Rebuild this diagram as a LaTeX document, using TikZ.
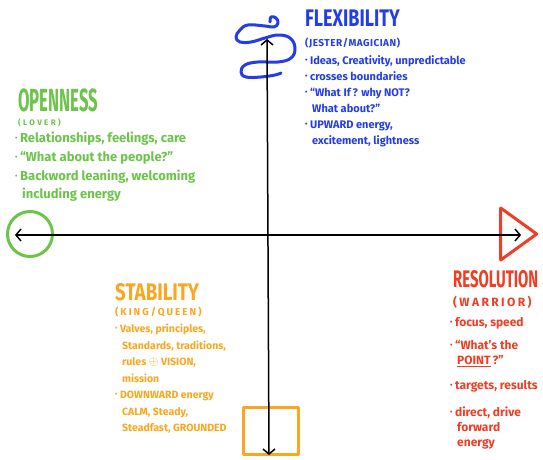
\documentclass[tikz,border=0pt]{standalone}
\usepackage{fontspec}
\setmainfont{Fira Sans}
\usepackage{graphicx}
\usepackage{xcolor}
\usepackage{amssymb}
\usepackage{tikz}
\usetikzlibrary{arrows.meta}
\usetikzlibrary{shapes.geometric}

\definecolor{flexblue}{RGB}{35,62,232}
\definecolor{opengreen}{RGB}{108,196,74}
\definecolor{stableorange}{RGB}{250,166,30}
\definecolor{resolvered}{RGB}{240,62,36}

\newcommand\blt{\raisebox{1.8pt}{\fontsize{7}{7}\selectfont\textbullet}\hspace{2.5pt}}
\newcommand\cont{\hspace*{7pt}}
\newcommand\narrow[2]{\scalebox{#1}[1]{#2}}
\newcommand\spaced[1]{\addfontfeature{LetterSpace=#1}}

\tikzset{
	axis/.style={draw=black,line width=1.5pt},
	ink/.style={line width=3pt,line cap=round,line join=round},
	title/.style={inner sep=0pt,anchor=base west,font=\bfseries\fontsize{24}{24}\selectfont},
	role/.style={inner sep=0pt,anchor=base west,font=\bfseries\fontsize{10}{10}\selectfont},
	notes/.style={inner sep=0pt,anchor=north west,align=left,font=\bfseries\fontsize{9.5}{16}\selectfont}
}

\begin{document}
\begin{tikzpicture}[x=1pt,y=-1pt,<->,>={Straight Barb[length=5pt,width=12pt,line width=1.5pt]}]
	\useasboundingbox[fill=white] (0,0) rectangle (543,460);

	% the four end marks
	\node [circle,draw=opengreen,ink,minimum size=45pt,inner sep=0pt] (ring) at (30,234) {};
	\node [isosceles triangle,draw=resolvered,ink,minimum height=36pt,minimum width=52pt,
		isosceles triangle stretches,inner sep=0pt] (wedge) at (514,234) {};
	\node [rectangle,draw=stableorange,ink,minimum width=55pt,minimum height=47pt,inner sep=0pt] (block) at (271,431) {};
	\draw [flexblue,ink,-] plot [smooth,tension=0.7] coordinates {
		(270,22) (271,17) (276,18) (278,23) (274,27) (265,26) (248,25) (240,30) (236,37)
		(240,42) (251,42) (265,38) (278,35) (290,38) (295,48) (291,58) (278,62) (258,62)
		(245,65) (241,72) (246,77) (261,77) (275,75) (281,73)};

	% axes
	\coordinate (west) at (15,235);
	\coordinate (east) at (521,235);
	\coordinate (north) at (267,39);
	\coordinate (south) at (269,455);
	\draw [axis] (west) -- (east);
	\draw [axis] (north) -- (south);

	% flexibility
	\node [title,text=flexblue] (flex) at (305,27) {\narrow{0.75}{FLEXIBILITY}};
	\node [role,text=flexblue] (jester) at (305,47) {\spaced{5}(JESTER/MAGICIAN)};
	\node [notes,text=flexblue,font=\bfseries\fontsize{11}{16}\selectfont] (flexnotes) at (305,55) {\blt Ideas, Creativity, unpredictable\\
		\blt crosses boundaries\\
		\blt ``What If\,? why NOT?\\
		\cont What about?''\\
		\blt UPWARD energy,\\
		\cont excitement, lightness};

	% openness
	\node [title,text=opengreen,font=\bfseries\fontsize{32}{32}\selectfont] (open) at (18,111) {\narrow{0.52}{OPENNESS}};
	\node [role,text=opengreen,font=\bfseries\fontsize{8}{8}\selectfont] (lover) at (18,125) {\spaced{30}(LOVER)};
	\node [notes,text=opengreen,font=\bfseries\fontsize{13}{18.7}\selectfont] (opennotes) at (15,132) {\blt Relationships, feelings, care\\
		\blt ``What about the people?''\\
		\blt Backword leaning, welcoming\\
		\cont including energy};

	% stability
	\node [title,text=stableorange] (stable) at (115,300) {\narrow{0.78}{STABILITY}};
	\node [role,text=stableorange] (king) at (115,315) {\spaced{20}(KING/QUEEN)};
	\node [notes,text=stableorange,font=\bfseries\fontsize{10.5}{16.5}\selectfont] (stablenotes) at (115,324) {\blt Valves, principles,\\
		\cont Standards, traditions,\\
		\cont rules \scalebox{1.15}{$\oplus$} VISION,\\
		\cont mission\\
		\blt DOWNWARD energy\\
		\cont CALM, Steady,\\
		\cont Steadfast, GROUNDED};

	% resolution
	\node [title,text=resolvered] (resolve) at (453,287) {\narrow{0.62}{RESOLUTION}};
	\node [role,text=resolvered,font=\bfseries\fontsize{12}{12}\selectfont] (warrior) at (453,306) {\spaced{20}(WARRIOR)};
	\node [notes,text=resolvered,font=\bfseries\fontsize{12}{15}\selectfont] (resolvenotes) at (450,317) {\blt focus, speed\\[8pt]
		\blt ``What's the\\
		\cont \underline{POINT}\,?''\\[10pt]
		\blt targets, results\\[12pt]
		\blt direct, drive\\
		\cont forward\\
		\cont energy};
\end{tikzpicture}
\end{document}
